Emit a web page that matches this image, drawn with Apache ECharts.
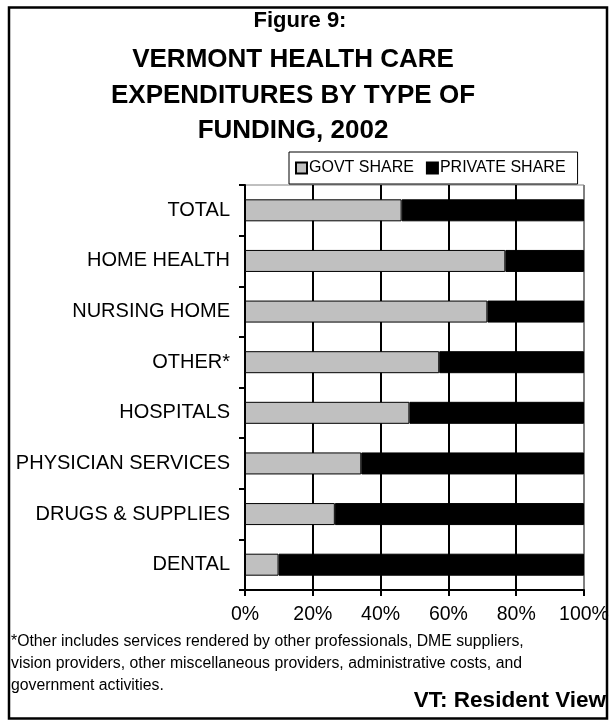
<!DOCTYPE html>
<html>
<head>
<meta charset="utf-8">
<script src="https://cdn.jsdelivr.net/npm/echarts@6/dist/echarts.min.js"></script>
<style>
  html, body { margin: 0; padding: 0; background: #fff; }
  #chart { width: 612px; height: 725px; }
</style>
</head>
<body>
<div id="chart"></div>
<script>
// Spending categories, top to bottom
const categories = [
  'TOTAL', 'HOME HEALTH', 'NURSING HOME', 'OTHER*',
  'HOSPITALS', 'PHYSICIAN SERVICES', 'DRUGS & SUPPLIES', 'DENTAL'
];
// Share of spending (%) by funding source
const govtShare    = [46.2, 76.8, 71.5, 57.3, 48.5, 34.3, 26.5, 9.9];
const privateShare = [53.8, 23.2, 28.5, 42.7, 51.5, 65.7, 73.5, 90.1];

const figureLabel = 'Figure 9:';
const titleLines = ['VERMONT HEALTH CARE', 'EXPENDITURES BY TYPE OF', 'FUNDING, 2002'];
const footnoteLines = [
  '*Other includes services rendered by other professionals, DME suppliers,',
  'vision providers, other miscellaneous providers, administrative costs, and',
  'government activities.'
];

const FONT = '"Liberation Sans", Arial, sans-serif';
const chart = echarts.init(document.getElementById('chart'), null, { renderer: 'canvas' });

// Heading: figure number plus three centred title lines
const heading = [{
  type: 'text', x: 300, y: 21,
  style: { text: figureLabel, font: 'bold 22px ' + FONT, fill: '#000',
           textAlign: 'center', textVerticalAlign: 'middle' }
}].concat(titleLines.map((line, i) => ({
  type: 'text', x: 293, y: 60 + i * 35.5,
  style: { text: line, font: 'bold 26px ' + FONT, fill: '#000',
           textAlign: 'center', textVerticalAlign: 'middle' }
})));

chart.setOption({
  animation: false,
  backgroundColor: '#fff',
  textStyle: { fontFamily: FONT, color: '#000' },
  legend: {
    left: 289, top: 152,
    padding: [8, 12, 8, 6],
    borderColor: '#000', borderWidth: 1,
    backgroundColor: '#fff',
    itemWidth: 11, itemHeight: 11, itemGap: 12,
    icon: 'rect',
    textStyle: { fontFamily: FONT, fontSize: 16, color: '#000', padding: [0, 0, 0, -3] },
    data: ['GOVT SHARE', 'PRIVATE SHARE']
  },
  grid: {
    left: 245, right: 28, top: 185, bottom: 135,
    show: true, borderColor: '#808080', borderWidth: 1, backgroundColor: 'transparent'
  },
  xAxis: {
    type: 'value', min: 0, max: 100, interval: 20,
    axisLine: { show: true, lineStyle: { color: '#000', width: 2 } },
    axisTick: { show: true, length: 6, lineStyle: { color: '#000', width: 2 } },
    axisLabel: { formatter: '{value}%', fontFamily: FONT, fontSize: 19.5, color: '#000', margin: 15 },
    splitLine: {
      show: true,
      lineStyle: { color: ['#000', '#000', '#000', '#000', '#000', '#808080'], width: 2 }
    }
  },
  yAxis: {
    type: 'category', data: categories, inverse: true,
    axisLine: { show: true, lineStyle: { color: '#000', width: 2 } },
    axisTick: { show: true, length: 6, lineStyle: { color: '#000', width: 2 } },
    axisLabel: { fontFamily: FONT, fontSize: 20, color: '#000', margin: 15 },
    splitLine: { show: false }
  },
  series: [
    {
      name: 'GOVT SHARE', type: 'bar', stack: 'share',
      data: govtShare, barWidth: 22,
      itemStyle: { color: '#c0c0c0', borderColor: '#000', borderWidth: 1 }
    },
    {
      name: 'PRIVATE SHARE', type: 'bar', stack: 'share',
      data: privateShare, barWidth: 22,
      itemStyle: { color: '#000', borderColor: '#000', borderWidth: 1 }
    }
  ],
  graphic: heading.concat([
    {
      type: 'rect', silent: true, z: 100,
      shape: { x: 9, y: 7.5, width: 598, height: 711 },
      style: { fill: 'none', stroke: '#000', lineWidth: 2.5 }
    },
    {
      type: 'group', left: 11, top: 634,
      children: footnoteLines.map((line, i) => ({
        type: 'text', x: 0, y: i * 22,
        style: { text: line, font: '15.8px ' + FONT, fill: '#000' }
      }))
    },
    {
      type: 'text', right: 6, top: 689,
      style: { text: 'VT: Resident View', font: 'bold 22.5px ' + FONT, fill: '#000' }
    }
  ])
});
</script>
</body>
</html>
